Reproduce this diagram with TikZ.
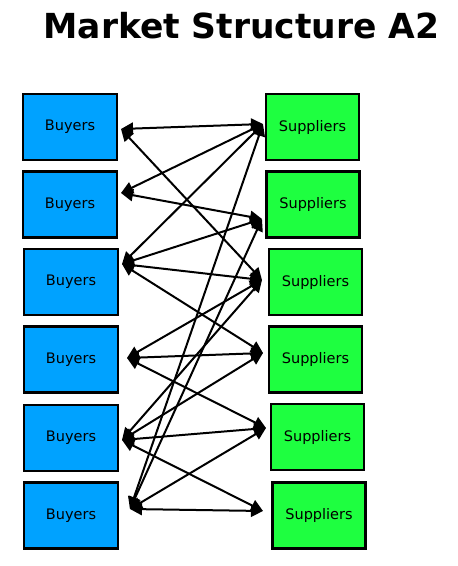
\documentclass[tikz,border=0pt]{standalone}
\usepackage{fontspec}
\setmainfont{DejaVu Sans}
\usetikzlibrary{arrows.meta}
\definecolor{buyblue}{RGB}{0,162,255}
\definecolor{supgreen}{RGB}{30,255,64}
\begin{document}
\begin{tikzpicture}[x=1pt,y=-1pt,
  box/.style={draw=black, line width=2.4pt, inner sep=0pt, rectangle,
    font=\fontsize{14.5}{16}\selectfont},
  buyer/.style={box, fill=buyblue, minimum width=94pt, minimum height=66pt},
  supplier/.style={box, fill=supgreen, minimum width=93pt, minimum height=66pt},
  link/.style={line width=2pt, draw=black, line join=round,
    {Triangle[length=12pt,width=12pt]}-{Triangle[length=12pt,width=12pt]}},
  title/.style={font=\fontsize{34.5}{40}\selectfont\bfseries, inner sep=0pt, anchor=base}]
\useasboundingbox (0,0) rectangle (458,566);
\fill[white] (0,0) rectangle (458,566);

\node[title] (t) at (241.5,38) {Market Structure A2};

\node[buyer] (B1) at (70,127) {Buyers};
\node[buyer] (B2) at (70,204.5) {Buyers};
\node[buyer] (B3) at (71,282) {Buyers};
\node[buyer] (B4) at (71,359.5) {Buyers};
\node[buyer] (B5) at (71,438) {Buyers};
\node[buyer] (B6) at (71,515.5) {Buyers};

\node[supplier] (S1) at (312.5,127) {Suppliers};
\node[supplier] (S2) at (313,204.5) {Suppliers};
\node[supplier] (S3) at (315.5,282) {Suppliers};
\node[supplier] (S4) at (315.5,359.5) {Suppliers};
\node[supplier] (S5) at (317.5,437) {Suppliers};
\node[supplier] (S6) at (319,515.5) {Suppliers};

\coordinate (b1) at (121,129);
\coordinate (b2) at (121,193);
\coordinate (b3) at (122,264);
\coordinate (b4) at (127,358);
\coordinate (b5) at (122,440);
\coordinate (b6) at (130,509);
\coordinate (s1) at (263,124);
\coordinate (s2) at (262,219);
\coordinate (s3) at (262,280);
\coordinate (s4) at (263,353);
\coordinate (s5) at (266,428);
\coordinate (s6) at (263,511);

\draw[link] (b1) -- (s1);
\draw[link] (b1) -- (s3);
\draw[link] (b2) -- (s1);
\draw[link] (b2) -- (s2);
\draw[link] (b3) -- (s1);
\draw[link] (b3) -- (s2);
\draw[link] (b3) -- (s3);
\draw[link] (b3) -- (s4);
\draw[link] (b4) -- (s3);
\draw[link] (b4) -- (s4);
\draw[link] (b4) -- (s5);
\draw[link] (b5) -- (s3);
\draw[link] (b5) -- (s4);
\draw[link] (b5) -- (s5);
\draw[link] (b5) -- (s6);
\draw[link] (b6) -- (s1);
\draw[link] (b6) -- (s2);
\draw[link] (b6) -- (s5);
\draw[link] (b6) -- (s6);
\end{tikzpicture}
\end{document}
